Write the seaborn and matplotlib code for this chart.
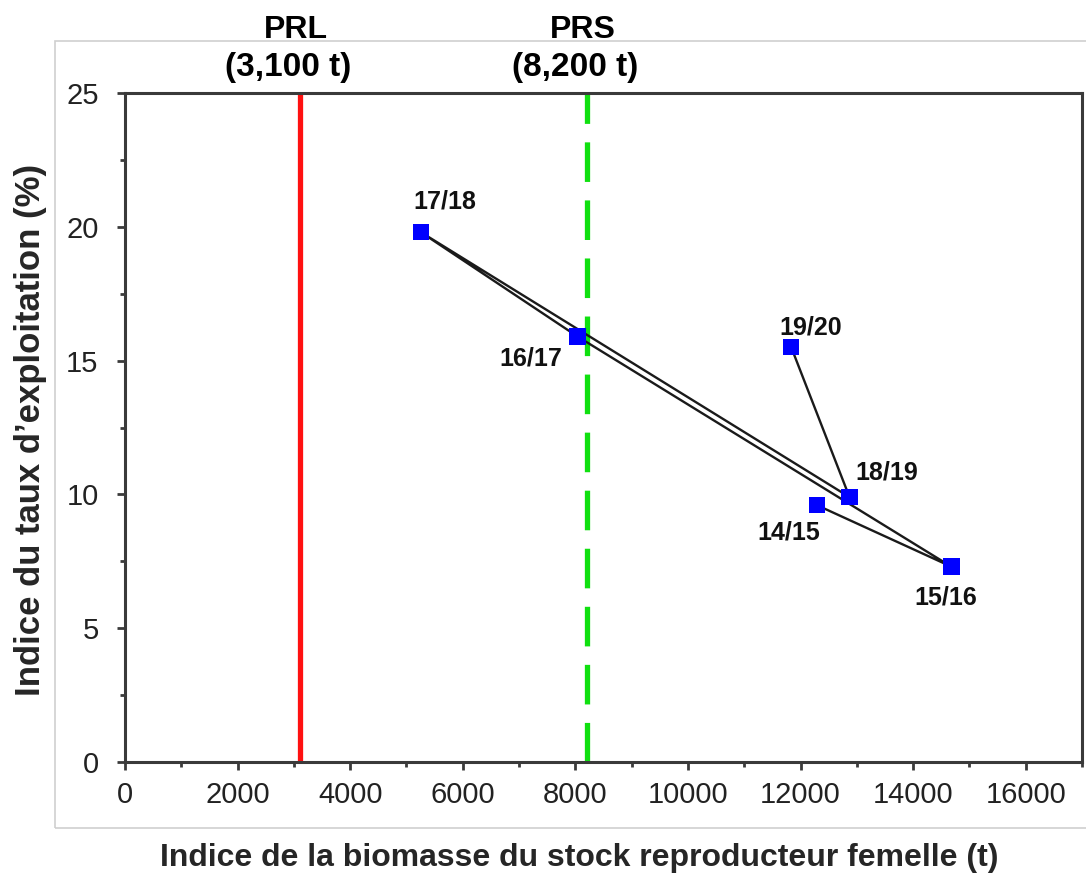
import matplotlib
matplotlib.use("Agg")
import matplotlib.pyplot as plt
import matplotlib.transforms as mtransforms
from matplotlib.patches import Rectangle
from matplotlib.ticker import MultipleLocator
import pandas as pd
import seaborn as sns

# Fishing seasons, female spawning-stock biomass index (t) and exploitation-rate index (%)
seasons = ["14/15", "15/16", "16/17", "17/18", "18/19", "19/20"]
biomass = [12290, 14680, 8040, 5255, 12870, 11835]
exploitation = [9.6, 7.3, 15.9, 19.8, 9.9, 15.5]

# Reference points
prl_value = 3100
prs_value = 8200
ref_names = ["PRL", "PRS"]
ref_texts = ["(3,100 t)", "(8,200 t)"]

# Label offsets (points) for each season marker
label_dx = [-20, -4, -34, 17, 27, 14]
label_dy = [-20, -22, -16, 22, 18, 14]

x_label = "Indice de la biomasse du stock reproducteur femelle (t)"
y_label = "Indice du taux d\u2019exploitation (%)"

df = pd.DataFrame({"saison": seasons, "biomasse": biomass, "taux": exploitation})

sns.set_theme(style="white")
plt.rcParams["font.family"] = ["Liberation Sans", "DejaVu Sans"]

fig = plt.figure(figsize=(10.86, 8.75), dpi=100)
fig.patch.set_facecolor("white")
ax = fig.add_axes([0.1151, 0.1291, 0.8812, 0.7646])

# light frame around the chart area
fig.add_artist(Rectangle((0.0506, 0.0537), 1.0, 0.8994, transform=fig.transFigure,
                         fill=False, edgecolor="#cfcfcf", lw=1.2, zorder=0))

# reference lines
ax.axvline(prl_value, color="#ff1010", lw=3.8, zorder=1)
ax.axvline(prs_value, color="#10e010", lw=3.8, dashes=(7.5, 3.5), zorder=1)

# trajectory through the seasons, in chronological order
sns.lineplot(data=df, x="biomasse", y="taux", sort=False, estimator=None,
             color="#1a1a1a", lw=1.7, ax=ax, zorder=2)
sns.scatterplot(data=df, x="biomasse", y="taux", marker="s", s=140,
                color="#0000ff", edgecolor="none", linewidth=0, ax=ax, zorder=3)

for s, x, y, dx, dy in zip(seasons, biomass, exploitation, label_dx, label_dy):
    ax.annotate(s, (x, y), xytext=(dx, dy), textcoords="offset points",
                ha="center", va="center", fontsize=18, fontweight="bold", color="#111111")

ax.set_xlim(0, 17000)
ax.set_ylim(0, 25)
ax.xaxis.set_major_locator(MultipleLocator(2000))
ax.xaxis.set_minor_locator(MultipleLocator(1000))
ax.yaxis.set_major_locator(MultipleLocator(5))
ax.yaxis.set_minor_locator(MultipleLocator(2.5))

for sp in ax.spines.values():
    sp.set_visible(True)
    sp.set_color("#3a3a3a")
    sp.set_linewidth(2.2)

ax.tick_params(which="major", direction="out", length=6, width=2, color="#3a3a3a",
               labelsize=21, labelcolor="#222222")
ax.tick_params(which="minor", direction="out", length=3.5, width=2, color="#3a3a3a")
ax.tick_params(axis="x", which="both", bottom=True, top=False, pad=8)
ax.tick_params(axis="y", which="both", left=True, right=False, pad=13)

ax.set_xlabel(x_label, fontsize=23, fontweight="bold")
ax.set_ylabel(y_label, fontsize=25, fontweight="bold")
ax.xaxis.set_label_coords(0.475, -0.121)
ax.yaxis.set_label_coords(-0.082, 0.496)

# reference point headers above the plot
trans = mtransforms.blended_transform_factory(ax.transData, fig.transFigure)
for xv, name, txt in zip([prl_value, prs_value], ref_names, ref_texts):
    ax.text(xv - 60, 1 - 27 / 875, name, transform=trans, ha="center", va="center_baseline",
            fontsize=23, fontweight="bold", color="black")
    ax.text(xv - 210, 1 - 64 / 875, txt, transform=trans, ha="center", va="center_baseline",
            fontsize=24, fontweight="bold", color="black")

fig.savefig("out.png", dpi=100, facecolor="white")
